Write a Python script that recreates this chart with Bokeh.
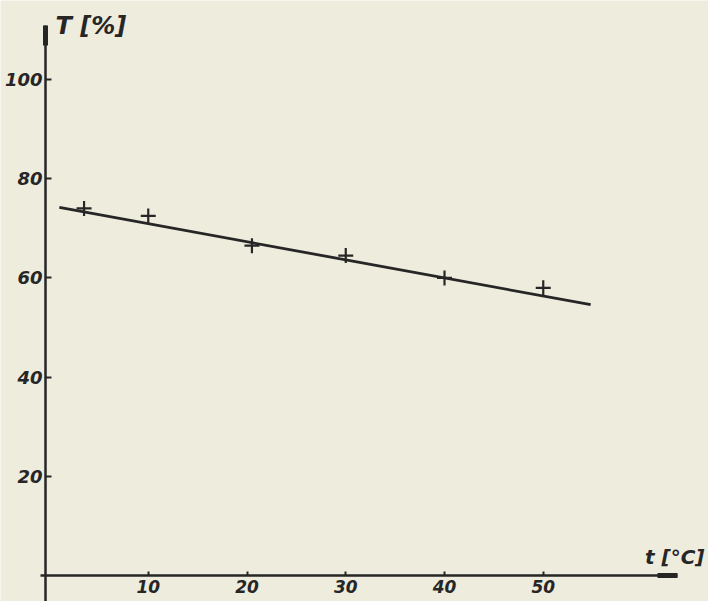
from bokeh.plotting import figure
from bokeh.models import Range1d, FixedTicker, Label
from bokeh.embed import file_html
from bokeh.resources import INLINE

# ---- data ----
temps = [3.5, 10, 20.5, 30, 40, 50]          # t [°C]
transm = [74.0, 72.5, 66.5, 64.5, 60.0, 58.0]  # T [%]
fit_t = [1.0, 54.8]                           # fitted straight line
fit_T = [74.2, 54.6]
x_ticks = [10, 20, 30, 40, 50]
y_ticks = [20, 40, 60, 80, 100]
y_title = "T [%]"
x_title = "t [°C]"

# ---- layout (pixel scale of the reference) ----
W, H = 708, 601
OFF = 0
X0_PX, X_PX_PER = 49.0, 9.875
Y0_PX, Y_PX_PER = 575.0, 4.96


def dx(px):
    return (px - X0_PX) / X_PX_PER


def dy(py):
    return (Y0_PX - py) / Y_PX_PER


PAPER = "#eeecdd"
INK = "#262626"

p = figure(width=W, height=H, output_backend="svg", toolbar_location=None,
           x_range=Range1d(dx(OFF), dx(OFF + W)),
           y_range=Range1d(dy(OFF + H), dy(OFF)),
           min_border=0)
p.background_fill_color = PAPER
p.border_fill_color = PAPER
p.outline_line_color = None
p.grid.visible = False

ax_x = p.xaxis[0]
ax_y = p.yaxis[0]
ax_x.fixed_location = 0
ax_x.bounds = (dx(40), dx(677))
ax_y.fixed_location = dx(45)
ax_y.bounds = (dy(OFF + H), dy(25))

for ax in (ax_x, ax_y):
    ax.axis_line_color = INK
    ax.axis_line_width = 2.5
    ax.major_tick_line_color = INK
    ax.major_tick_line_width = 2
    ax.minor_tick_line_color = None
    ax.major_tick_out = 0
    ax.major_label_text_color = INK
    ax.major_label_text_font = "DejaVu Sans"
    ax.major_label_text_font_style = "bold italic"

ax_x.ticker = FixedTicker(ticks=x_ticks)
ax_y.ticker = FixedTicker(ticks=y_ticks)
ax_x.major_tick_in = 4
ax_y.major_tick_in = 6
ax_x.major_label_text_font_size = "17px"
ax_y.major_label_text_font_size = "18px"
ax_x.major_label_standoff = 4
ax_y.major_label_standoff = 3

# thick arrow-like ends of the axes
y_top = ax_y.bounds[1]
x_end = ax_x.bounds[1]
p.segment(x0=[ax_y.fixed_location], y0=[y_top], x1=[ax_y.fixed_location],
          y1=[y_top - 20 / Y_PX_PER], line_width=5, line_color=INK)
p.segment(x0=[x_end - 20 / X_PX_PER], y0=[0], x1=[x_end], y1=[0],
          line_width=5, line_color=INK)

# fitted line and measured points
p.line(fit_t, fit_T, line_width=2.8, line_color=INK)
p.scatter(temps, transm, marker="cross", size=15, line_width=2.2, line_color=INK)

# axis titles
p.add_layout(Label(x=dx(55), y=dy(25), text=y_title, text_font="DejaVu Sans",
                   text_font_style="bold italic", text_font_size="24px",
                   text_color=INK, text_baseline="middle", text_align="left"))
p.add_layout(Label(x=dx(704), y=dy(556), text=x_title, text_font="DejaVu Sans",
                   text_font_style="bold italic", text_font_size="20px",
                   text_color=INK, text_baseline="middle", text_align="right"))

open("out.html", "w").write(file_html(p, INLINE))
